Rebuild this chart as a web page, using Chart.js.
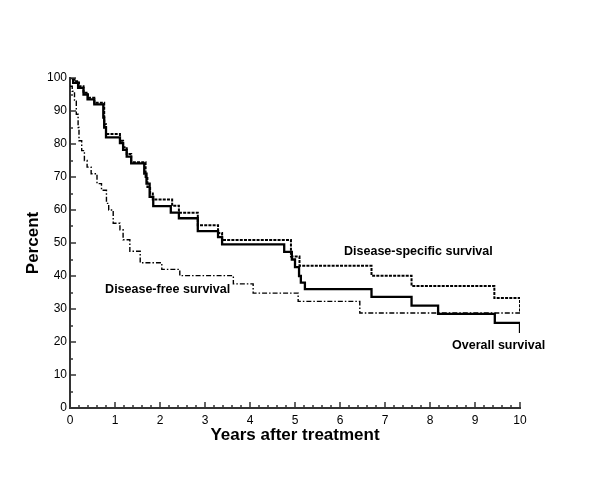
<!DOCTYPE html>
<html>
<head>
<meta charset="utf-8">
<script src="https://cdn.jsdelivr.net/npm/chart.js@4"></script>
<style>
  body { margin: 0; background: #fff; }
  #wrap { width: 600px; height: 480px; }
</style>
</head>
<body>
<div id="wrap"><canvas id="kmChart" width="600" height="480"></canvas></div>
<script>
// Kaplan-Meier curves: [years, percent]
const overallSurvival = [
  [0, 100], [0.07, 98.5], [0.18, 97], [0.3, 95], [0.39, 93.5], [0.54, 92],
  [0.74, 88], [0.76, 85], [0.8, 82], [1.11, 80.3], [1.18, 78.2], [1.26, 76.2],
  [1.36, 74.1], [1.65, 71], [1.7, 68], [1.77, 64], [1.85, 61.2], [2.24, 59.2],
  [2.42, 57.5], [2.84, 53.6], [3.29, 51.8], [3.38, 49.6], [4.76, 47.3], [4.93, 45],
  [5.0, 42.7], [5.09, 40], [5.13, 38], [5.22, 36], [6.7, 33.7], [7.59, 31],
  [8.18, 28.5], [9.44, 25.8], [10, 22.7]
];
const diseaseSpecific = [
  [0, 100], [0.1, 99], [0.2, 97.5], [0.3, 95.5], [0.4, 94], [0.54, 92.5],
  [0.76, 86], [0.8, 83], [1.11, 81], [1.18, 79], [1.26, 77], [1.36, 74.5],
  [1.68, 70], [1.72, 67], [1.78, 65], [1.84, 63.2], [2.27, 61.3], [2.42, 59.2],
  [2.84, 55.4], [3.29, 53], [3.38, 50.9], [4.91, 45.9], [5.1, 43.1], [6.7, 40.1],
  [7.59, 37], [9.43, 33.3], [10, 29]
];
const diseaseFree = [
  [0, 97.5], [0.05, 96], [0.1, 93], [0.14, 89], [0.18, 85], [0.2, 81],
  [0.26, 78], [0.32, 75], [0.38, 73], [0.47, 71], [0.6, 68], [0.7, 66],
  [0.81, 62], [0.86, 60], [0.96, 56], [1.11, 54], [1.18, 51], [1.33, 47.5],
  [1.56, 44], [2.04, 42], [2.44, 40.1], [3.63, 37.6], [4.07, 34.8], [5.07, 32.3],
  [6.44, 28.8], [10, 28.8]
];

// curve labels placed in data units: [text, years, percent]
const curveLabels = [
  ['Disease-specific survival', 6.09, 47.3],
  ['Disease-free survival', 0.78, 35.8],
  ['Overall survival', 8.49, 18.8]
];

const xTicks = { min: 0, max: 10, major: 1, minor: 0.2 };
const yTicks = { min: 0, max: 100, major: 10, minor: 5 };

const toPoints = arr => arr.map(p => ({ x: p[0], y: p[1] }));

// ticks point inward from the axis lines, like the original
const innerTicks = {
  id: 'innerTicks',
  afterDraw(chart) {
    const { ctx, chartArea, scales } = chart;
    ctx.save();
    ctx.strokeStyle = '#333';
    ctx.lineWidth = 1.5;
    ctx.beginPath();
    for (let v = xTicks.min; v <= xTicks.max + 1e-9; v += xTicks.minor) {
      const px = Math.round(scales.x.getPixelForValue(v));
      const isMajor = Math.abs(v / xTicks.major - Math.round(v / xTicks.major)) < 1e-6;
      const len = isMajor ? 6 : 3;
      ctx.moveTo(px, chartArea.bottom);
      ctx.lineTo(px, chartArea.bottom - len);
    }
    for (let v = yTicks.min; v <= yTicks.max + 1e-9; v += yTicks.minor) {
      const py = Math.round(scales.y.getPixelForValue(v));
      const len = (v % yTicks.major === 0) ? 6 : 3;
      ctx.moveTo(chartArea.left, py);
      ctx.lineTo(chartArea.left + len, py);
    }
    ctx.stroke();

    ctx.fillStyle = '#000';
    ctx.font = 'bold 12.5px "Liberation Sans", Arial, sans-serif';
    ctx.textBaseline = 'middle';
    ctx.textAlign = 'left';
    curveLabels.forEach(l => {
      ctx.fillText(l[0], scales.x.getPixelForValue(l[1]), scales.y.getPixelForValue(l[2]));
    });
    ctx.restore();
  }
};

new Chart(document.getElementById('kmChart'), {
  type: 'line',
  data: {
    datasets: [
      {
        label: 'Overall survival',
        data: toPoints(overallSurvival),
        borderColor: '#000',
        borderWidth: 2.3,
        stepped: 'before'
      },
      {
        label: 'Disease-specific survival',
        data: toPoints(diseaseSpecific),
        borderColor: '#000',
        borderWidth: 2,
        borderDash: [3, 1.2],
        stepped: 'before'
      },
      {
        label: 'Disease-free survival',
        data: toPoints(diseaseFree),
        borderColor: '#000',
        borderWidth: 1.4,
        borderDash: [5, 2, 1.5, 2],
        stepped: 'before'
      }
    ]
  },
  options: {
    responsive: false,
    animation: false,
    layout: { padding: { left: 0, top: 78, right: 80, bottom: 0 } },
    elements: { point: { radius: 0 } },
    plugins: { legend: { display: false }, tooltip: { enabled: false } },
    scales: {
      x: {
        type: 'linear',
        min: xTicks.min,
        max: xTicks.max,
        afterFit: s => { s.height = 72; },
        grid: { display: false, drawTicks: false },
        border: { display: true, color: '#333', width: 2 },
        ticks: {
          stepSize: xTicks.major,
          color: '#000',
          padding: 5,
          font: { family: '"Liberation Sans", Arial, sans-serif', size: 12 }
        },
        title: {
          display: true,
          text: 'Years after treatment',
          color: '#000',
          padding: { top: 0, bottom: 34 },
          font: { family: '"Liberation Sans", Arial, sans-serif', size: 17, weight: 'bold' }
        }
      },
      y: {
        type: 'linear',
        min: yTicks.min,
        max: yTicks.max,
        afterFit: s => { s.width = 70; },
        grid: { display: false, drawTicks: false },
        border: { display: true, color: '#333', width: 2 },
        ticks: {
          stepSize: yTicks.major,
          color: '#000',
          padding: 3,
          font: { family: '"Liberation Sans", Arial, sans-serif', size: 12 }
        },
        title: {
          display: true,
          text: 'Percent',
          color: '#000',
          padding: { top: 23, bottom: 0 },
          font: { family: '"Liberation Sans", Arial, sans-serif', size: 17, weight: 'bold' }
        }
      }
    }
  },
  plugins: [innerTicks]
});
</script>
</body>
</html>
